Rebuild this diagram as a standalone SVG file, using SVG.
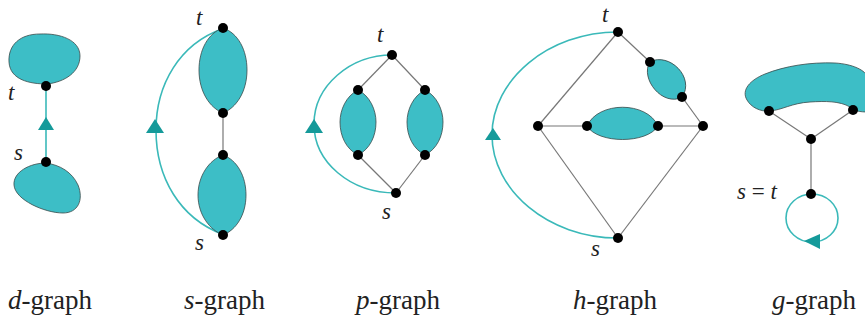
<svg xmlns="http://www.w3.org/2000/svg" width="865" height="320" viewBox="0 0 865 320">
<defs>
<style>
.blob{fill:#3dbec6;stroke:#3a4a4a;stroke-width:0.8}
.edge{stroke:#777;stroke-width:1.2;fill:none}
.arc{stroke:#3ab9b9;stroke-width:1.6;fill:none}
.tri{fill:#159a9a}
.nd{fill:#000}
.lab{font-family:'Liberation Serif','DejaVu Serif',serif;font-style:italic;font-size:23px;fill:#222}
.cap{font-family:'Liberation Serif','DejaVu Serif',serif;font-size:27px;fill:#222}
.it{font-style:italic}
.up{font-style:normal}
</style>
</defs>
<rect width="865" height="320" fill="#fff"/>

<g id="connectors">
  <line class="arc" x1="46" y1="86" x2="46" y2="162"/>
  <path class="arc" d="M222 234 C180 218,156 178,156 130 C156 84,180 44,222 29"/>
  <path class="arc" d="M392 55 C350 55,314 86,314 124 C314 162,350 193,396 193"/>
  <path class="arc" d="M618 32 C548 32,492 80,492 135 C492 190,548 238,618 238"/>
  <ellipse class="arc" cx="812" cy="218" rx="26" ry="24"/>
  <line class="edge" x1="223" y1="113" x2="223" y2="155"/>
  <line class="edge" x1="392" y1="55" x2="358" y2="90"/>
  <line class="edge" x1="392" y1="55" x2="425" y2="90"/>
  <line class="edge" x1="358" y1="155" x2="396" y2="193"/>
  <line class="edge" x1="425" y1="155" x2="396" y2="193"/>
  <line class="edge" x1="618" y1="32" x2="650" y2="62"/>
  <line class="edge" x1="682" y1="97" x2="703" y2="126"/>
  <line class="edge" x1="618" y1="32" x2="538" y2="126"/>
  <line class="edge" x1="538" y1="126" x2="587" y2="126"/>
  <line class="edge" x1="658" y1="126" x2="703" y2="126"/>
  <line class="edge" x1="538" y1="126" x2="618" y2="238"/>
  <line class="edge" x1="703" y1="126" x2="618" y2="238"/>
  <line class="edge" x1="769" y1="111" x2="811" y2="139"/>
  <line class="edge" x1="853" y1="110" x2="811" y2="139"/>
  <line class="edge" x1="811" y1="139" x2="811" y2="194"/>
</g>

<g id="d-graph">
  <path class="blob" d="M47 84 C30 84,10 80,9 62 C8 45,20 34,40 34 C60 33,80 40,80 56 C80 72,65 82,47 84 Z"/>
  <path class="blob" d="M46 163 C60 165,72 172,78 185 C84 200,78 213,63 213 C45 213,15 200,14 185 C13 172,30 163,46 163 Z"/>
  <polygon class="tri" points="46,117 38,130 54,130"/>
  <circle class="nd" cx="46" cy="86" r="5"/>
  <circle class="nd" cx="46" cy="162" r="5"/>
  <text class="lab" x="8" y="100">t</text>
  <text class="lab" x="14" y="160">s</text>
</g>

<g id="s-graph">
  <path class="blob" d="M223 28 C238 33,247 50,247 70 C247 92,236 108,223 113 C210 108,199 92,199 70 C199 50,208 33,223 28 Z"/>
  <path class="blob" d="M223 155 C237 160,246 176,246 195 C246 215,236 230,223 235 C210 230,198 215,198 195 C198 176,209 160,223 155 Z"/>
  <polygon class="tri" points="155,119 146,133 164,133"/>
  <circle class="nd" cx="223" cy="28" r="5"/>
  <circle class="nd" cx="223" cy="113" r="5"/>
  <circle class="nd" cx="223" cy="155" r="5"/>
  <circle class="nd" cx="223" cy="235" r="5"/>
  <text class="lab" x="196" y="25">t</text>
  <text class="lab" x="195" y="250">s</text>
</g>

<g id="p-graph">
  <path class="blob" d="M358 90 C370 96,376 110,376 122 C376 136,370 149,358 155 C346 149,340 136,340 122 C340 110,346 96,358 90 Z"/>
  <path class="blob" d="M425 90 C437 96,443 110,443 122 C443 136,437 149,425 155 C413 149,407 136,407 122 C407 110,413 96,425 90 Z"/>
  <polygon class="tri" points="314,119 305,133 323,133"/>
  <circle class="nd" cx="392" cy="55" r="5"/>
  <circle class="nd" cx="358" cy="90" r="5"/>
  <circle class="nd" cx="425" cy="90" r="5"/>
  <circle class="nd" cx="358" cy="155" r="5"/>
  <circle class="nd" cx="425" cy="155" r="5"/>
  <circle class="nd" cx="396" cy="193" r="5"/>
  <text class="lab" x="377" y="42">t</text>
  <text class="lab" x="382" y="219">s</text>
</g>

<g id="h-graph">
  <path class="blob" transform="translate(666 79.5) rotate(47.6)" d="M-24 0 C-18 -21,18 -23,24 0 C18 21,-18 19,-24 0 Z"/>
  <path class="blob" d="M587 126 C598 101,647 101,658 126 C647 144,598 144,587 126 Z"/>
  <polygon class="tri" points="493,128 485,140 501,140"/>
  <circle class="nd" cx="618" cy="32" r="5"/>
  <circle class="nd" cx="650" cy="62" r="5"/>
  <circle class="nd" cx="682" cy="97" r="5"/>
  <circle class="nd" cx="703" cy="126" r="5"/>
  <circle class="nd" cx="538" cy="126" r="5"/>
  <circle class="nd" cx="587" cy="126" r="5"/>
  <circle class="nd" cx="658" cy="126" r="5"/>
  <circle class="nd" cx="618" cy="238" r="5"/>
  <text class="lab" x="602" y="22">t</text>
  <text class="lab" x="591" y="256">s</text>
</g>

<g id="g-graph">
  <path class="blob" d="M747 100 C741 90,750 80,765 74 C785 66,810 62,835 63 C852 64,866 70,868 78 L868 112 C860 112,854 111,850 107 C840 101,825 101,810 102 C792 103,782 110,770 111 C760 112,751 107,747 100 Z"/>
  <polygon class="tri" points="804,241 820,234 820,249"/>
  <circle class="nd" cx="769" cy="111" r="5"/>
  <circle class="nd" cx="853" cy="110" r="5"/>
  <circle class="nd" cx="811" cy="139" r="5"/>
  <circle class="nd" cx="811" cy="194" r="5"/>
  <text class="lab" x="737" y="199">s <tspan class="up">=</tspan> t</text>
</g>

<g id="captions">
  <text class="cap" x="8" y="309"><tspan class="it">d</tspan>-graph</text>
  <text class="cap" x="184" y="309"><tspan class="it">s</tspan>-graph</text>
  <text class="cap" x="356" y="309"><tspan class="it">p</tspan>-graph</text>
  <text class="cap" x="573" y="309"><tspan class="it">h</tspan>-graph</text>
  <text class="cap" x="772" y="309"><tspan class="it">g</tspan>-graph</text>
</g>
</svg>
